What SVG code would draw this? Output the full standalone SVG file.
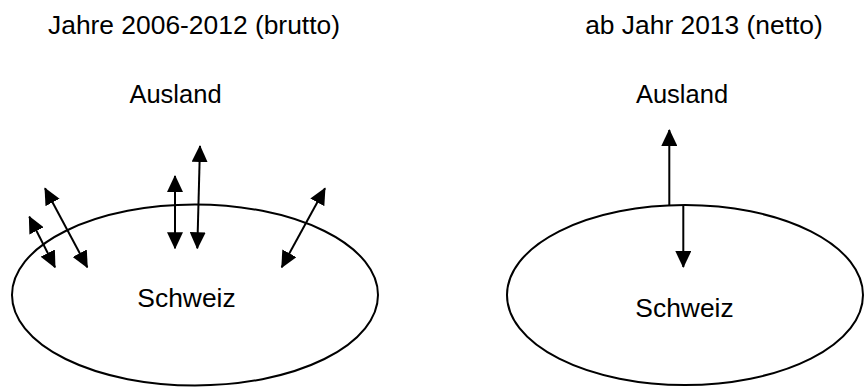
<svg xmlns="http://www.w3.org/2000/svg" width="865" height="387" viewBox="0 0 865 387">
<style>
text{font-family:"Liberation Sans",Arial,sans-serif;font-size:25.5px;fill:#000;text-anchor:middle}
.title{font-size:26.4px}
.sw{font-size:26.4px}
.shape{fill:none;stroke:#000;stroke-width:2}
.conn line{stroke:#000;stroke-width:2}
.bi{marker-start:url(#ah);marker-end:url(#ah)}
.uni{marker-end:url(#ah)}
</style>
<defs>
<marker id="ah" viewBox="0 0 17 16" refX="16" refY="8" markerWidth="17" markerHeight="16" markerUnits="userSpaceOnUse" orient="auto-start-reverse">
<path d="M0,0 L17,8 L0,16 z" fill="#000"/>
</marker>
</defs>
<g id="title-left"><text class="title" x="194" y="34">Jahre 2006-2012 (brutto)</text></g>
<g id="title-right"><text class="title" x="704" y="34">ab Jahr 2013 (netto)</text></g>
<g id="ausland-left"><text x="175.5" y="103">Ausland</text></g>
<g id="ausland-right"><text x="682" y="103">Ausland</text></g>
<g id="schweiz-left">
<ellipse class="shape" cx="195" cy="295" rx="183" ry="90.5"/>
<text class="sw" x="186.5" y="307">Schweiz</text>
</g>
<g id="schweiz-right">
<ellipse class="shape" cx="685" cy="295" rx="178" ry="90"/>
<text class="sw" x="684.5" y="317">Schweiz</text>
</g>
<g class="conn" id="connectors">
<line class="bi" x1="29.3" y1="216.7" x2="55" y2="267.3"/>
<line class="bi" x1="45" y1="188.3" x2="87.3" y2="267.3"/>
<line class="bi" x1="175" y1="176" x2="175" y2="248.3"/>
<line class="bi" x1="200" y1="146" x2="197.3" y2="248.3"/>
<line class="bi" x1="325" y1="188.3" x2="281.7" y2="267.3"/>
<line class="uni" x1="669.3" y1="205" x2="669.3" y2="130"/>
<line class="uni" x1="683.3" y1="205" x2="683.3" y2="267"/>
</g>
</svg>
